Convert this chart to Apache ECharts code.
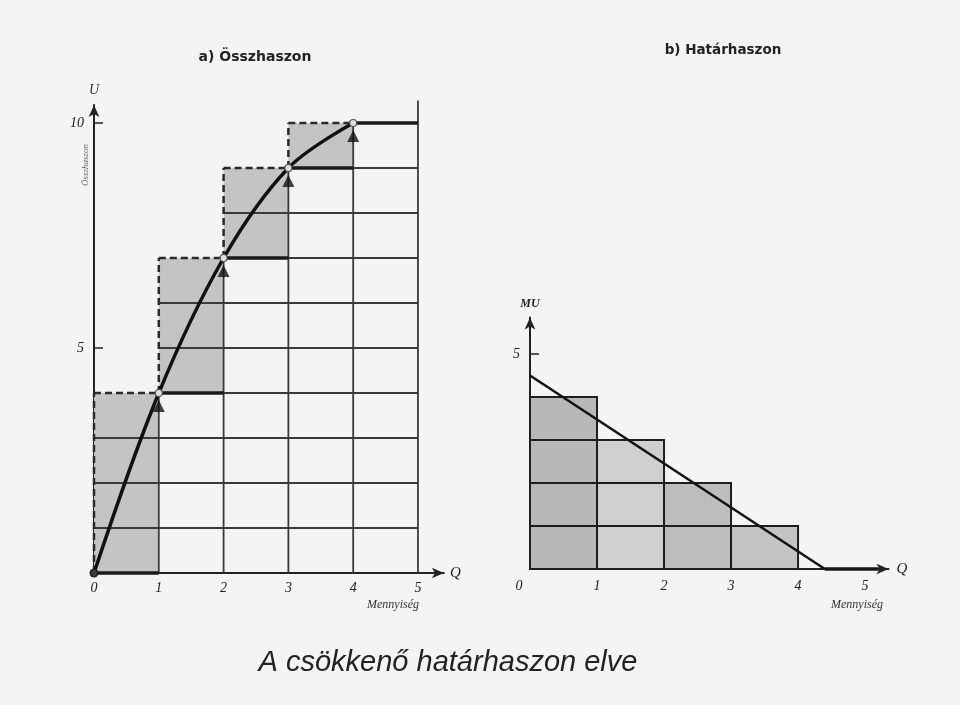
<!DOCTYPE html>
<html>
<head>
<meta charset="utf-8">
<script src="https://cdn.jsdelivr.net/npm/echarts@6/dist/echarts.min.js"></script>
<style>html,body{margin:0;padding:0;background:#f4f4f4;}#c{width:960px;height:705px;}</style>
</head>
<body>
<div id="c"></div>
<script>
// ---- data ----
const quantity = [0, 1, 2, 3, 4, 5];          // Q
const totalUtility = [0, 4, 7, 9, 10, 10];     // TU at Q
const marginalUtility = [4, 3, 2, 1];          // MU of unit 1..4
const muLine = [[0, 4.5], [4.4, 0]];           // straight MU line
const leftYTicks = [5, 10];
const rightYTicks = [5];
const xTicks = [0, 1, 2, 3, 4, 5];

// ---- derived geometry from data ----
const boxes = [];
for (let k = 0; k < 4; k++) boxes.push([k, totalUtility[k], k + 1, totalUtility[k + 1]]);
const gridSeg = [], dashSeg = [], thickSeg = [];
for (let j = 1; j <= 10; j++) {
  let k = 0;
  while (!(totalUtility[k] < j && j <= totalUtility[k + 1])) k++;
  if (j === totalUtility[k + 1]) { dashSeg.push([k, j, k + 1, j]); gridSeg.push([k + 1, j, 5, j]); }
  else gridSeg.push([k, j, 5, j]);
}
for (let i = 1; i <= 4; i++) gridSeg.push([i, 0, i, totalUtility[i]]);
gridSeg.push([5, 0, 5, 10.5]);
for (let k = 0; k < 4; k++) dashSeg.push([k, totalUtility[k], k, totalUtility[k + 1]]);
for (let i = 0; i <= 4; i++) thickSeg.push([i, totalUtility[i], i + 1, totalUtility[i]]);
const curve = quantity.slice(0, 5).map((q, i) => [q, totalUtility[i]]);
const arrows = quantity.slice(1, 5).map((q) => [q, totalUtility[q]]);

const cells = [];
marginalUtility.forEach((mu, k) => { for (let j = 1; j <= mu; j++) cells.push([k, j - 1, k + 1, j, k]); });
const tail = [[muLine[1][0], 0, 5.2, 0]];

function segRender(style) {
  return function (params, api) {
    const p1 = api.coord([api.value(0), api.value(1)]);
    const p2 = api.coord([api.value(2), api.value(3)]);
    return { type: 'line', shape: { x1: p1[0], y1: p1[1], x2: p2[0], y2: p2[1] }, style: style };
  };
}
function rectRender(fills, stroke, lw) {
  return function (params, api) {
    const p1 = api.coord([api.value(0), api.value(3)]);
    const p2 = api.coord([api.value(2), api.value(1)]);
    const c = fills[api.value(4) || 0] || fills[0];
    return { type: 'rect', shape: { x: p1[0], y: p1[1], width: p2[0] - p1[0], height: p2[1] - p1[1] },
      style: { fill: c, stroke: stroke, lineWidth: lw } };
  };
}

const serif = 'Liberation Serif';
const axLabel = { fontFamily: serif, fontStyle: 'italic', fontSize: 14, color: '#222' };
const chart = echarts.init(document.getElementById('c'));
chart.setOption({
  backgroundColor: '#f4f4f4',
  animation: false,
  grid: [
    { left: 94, top: 105, width: 349.9, height: 468 },
    { left: 530, top: 317.5, width: 358.5, height: 251.5 }
  ],
  xAxis: [
    { type: 'value', gridIndex: 0, min: 0, max: 5.4, interval: 1,
      axisLine: { lineStyle: { color: '#222', width: 2 }, symbol: ['none', 'arrow'], symbolSize: [8, 12] },
      axisTick: { show: false }, splitLine: { show: false },
      axisLabel: Object.assign({ customValues: xTicks, margin: 8 }, axLabel),
      name: 'Q', nameGap: 6, nameTextStyle: { fontFamily: serif, fontStyle: 'italic', fontSize: 15, color: '#222' } },
    { type: 'value', gridIndex: 1, min: 0, max: 5.35, interval: 1,
      axisLine: { lineStyle: { color: '#222', width: 2 }, symbol: ['none', 'arrow'], symbolSize: [8, 12] },
      axisTick: { show: false }, splitLine: { show: false },
      axisLabel: Object.assign({ customValues: xTicks, margin: 10,
        formatter: v => v === 0 ? '{o|0}' : String(v),
        rich: { o: { fontFamily: serif, fontStyle: 'italic', fontSize: 14, color: '#222', padding: [0, 22, 0, 0] } } }, axLabel),
      name: 'Q', nameGap: 8, nameTextStyle: { fontFamily: serif, fontStyle: 'italic', fontSize: 15, color: '#222' } }
  ],
  yAxis: [
    { type: 'value', gridIndex: 0, min: 0, max: 10.4, interval: 5,
      axisLine: { show: true, lineStyle: { color: '#222', width: 2 }, symbol: ['none', 'arrow'], symbolSize: [8, 12] },
      axisTick: { show: true, inside: true, length: 9, customValues: leftYTicks, lineStyle: { color: '#222', width: 1.5 } },
      splitLine: { show: false },
      axisLabel: Object.assign({ customValues: leftYTicks, margin: 10 }, axLabel),
      name: 'U', nameGap: 8, nameTextStyle: { fontFamily: serif, fontStyle: 'italic', fontSize: 14, color: '#333' } },
    { type: 'value', gridIndex: 1, min: 0, max: 5.85, interval: 5,
      axisLine: { show: true, lineStyle: { color: '#222', width: 2 }, symbol: ['none', 'arrow'], symbolSize: [8, 12] },
      axisTick: { show: true, inside: true, length: 9, customValues: rightYTicks, lineStyle: { color: '#222', width: 1.5 } },
      splitLine: { show: false },
      axisLabel: Object.assign({ customValues: rightYTicks, margin: 10 }, axLabel),
      name: 'MU', nameGap: 8, nameTextStyle: { fontFamily: serif, fontStyle: 'italic', fontWeight: 'bold', fontSize: 12, color: '#222' } }
  ],
  series: [
    { type: 'custom', xAxisIndex: 0, yAxisIndex: 0, data: boxes, z: 1, silent: true,
      renderItem: rectRender(['#c4c4c4'], 'none', 0) },
    { type: 'custom', xAxisIndex: 0, yAxisIndex: 0, data: gridSeg, z: 2, silent: true,
      renderItem: segRender({ stroke: '#3a3a3a', lineWidth: 1.8 }) },
    { type: 'custom', xAxisIndex: 0, yAxisIndex: 0, data: dashSeg, z: 3, silent: true,
      renderItem: segRender({ stroke: '#2a2a2a', lineWidth: 2.5, lineDash: [7, 4] }) },
    { type: 'custom', xAxisIndex: 0, yAxisIndex: 0, data: thickSeg, z: 4, silent: true,
      renderItem: segRender({ stroke: '#1a1a1a', lineWidth: 3.5 }) },
    { type: 'line', xAxisIndex: 0, yAxisIndex: 0, data: curve, smooth: 0.35, z: 5, silent: true,
      lineStyle: { color: '#111', width: 3.5 }, symbol: 'circle', symbolSize: 7,
      itemStyle: { color: '#e0e0e0', borderColor: '#555', borderWidth: 1.2 } },
    { type: 'scatter', xAxisIndex: 0, yAxisIndex: 0, data: [curve[0]], z: 6, silent: true,
      symbol: 'circle', symbolSize: 9, itemStyle: { color: '#111' } },
    { type: 'scatter', xAxisIndex: 0, yAxisIndex: 0, data: arrows, z: 6, silent: true,
      symbol: 'triangle', symbolSize: [12, 12], symbolOffset: [0, 13], itemStyle: { color: '#111' } },
    { type: 'custom', xAxisIndex: 1, yAxisIndex: 1, data: cells, z: 2, silent: true,
      renderItem: rectRender(['#b8b8b8', '#cfcfcf', '#bdbdbd', '#c4c4c4'], '#1e1e1e', 2) },
    { type: 'line', xAxisIndex: 1, yAxisIndex: 1, data: muLine, z: 5, silent: true,
      lineStyle: { color: '#111', width: 2.5 }, symbol: 'none' },
    { type: 'custom', xAxisIndex: 1, yAxisIndex: 1, data: tail, z: 4, silent: true,
      renderItem: segRender({ stroke: '#1a1a1a', lineWidth: 3.5 }) }
  ],
  graphic: [
    { type: 'text', x: 255, y: 57, style: { text: 'a) Összhaszon', fontFamily: 'DejaVu Sans', fontWeight: 'bold', fontSize: 14, fill: '#222', align: 'center', verticalAlign: 'middle' } },
    { type: 'text', x: 723, y: 50, style: { text: 'b) Határhaszon', fontFamily: 'DejaVu Sans', fontWeight: 'bold', fontSize: 13.5, fill: '#222', align: 'center', verticalAlign: 'middle' } },
    { type: 'text', x: 86, y: 165, rotation: Math.PI / 2, style: { text: 'Összhaszon', fontFamily: serif, fontStyle: 'italic', fontSize: 9, fill: '#666', align: 'center', verticalAlign: 'middle' } },
    { type: 'text', x: 393, y: 605, style: { text: 'Mennyiség', fontFamily: serif, fontStyle: 'italic', fontSize: 12, fill: '#333', align: 'center', verticalAlign: 'middle' } },
    { type: 'text', x: 857, y: 605, style: { text: 'Mennyiség', fontFamily: serif, fontStyle: 'italic', fontSize: 12, fill: '#333', align: 'center', verticalAlign: 'middle' } },
    { type: 'text', x: 448, y: 663, style: { text: 'A csökkenő határhaszon elve', fontFamily: 'Liberation Sans', fontStyle: 'italic', fontSize: 29, fill: '#222', align: 'center', verticalAlign: 'middle' } }
  ]
});
</script>
</body>
</html>
